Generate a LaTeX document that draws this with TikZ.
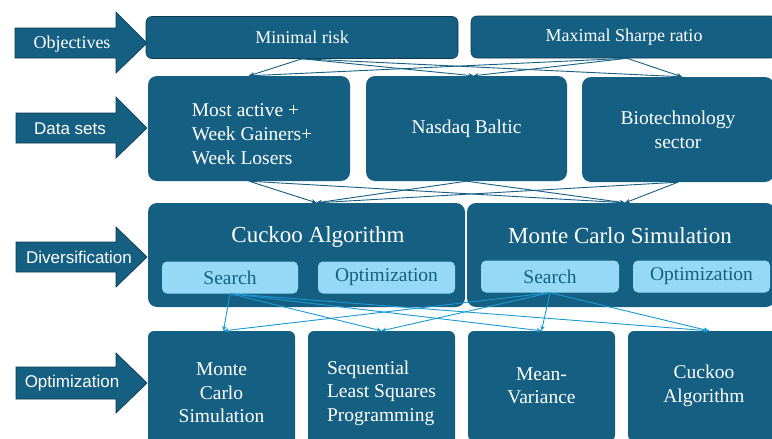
\documentclass[tikz,border=0pt]{standalone}
\usepackage{fontspec}
\setmainfont{Liberation Serif}
\newfontfamily\serf{Liberation Serif}
\newfontfamily\arrowsans{Liberation Sans}
\usetikzlibrary{arrows.meta}
\definecolor{mainblue}{HTML}{156082}
\definecolor{edgeblue}{HTML}{0E3A52}
\definecolor{lightfill}{HTML}{96D9F6}
\definecolor{linkblue}{HTML}{1A9AD2}
\tikzset{
  darkbox/.style={fill=mainblue, text=white, inner sep=0pt, align=center},
  objbox/.style={darkbox, draw=edgeblue, line width=0.6pt, rounded corners=6pt,
    minimum height=42pt, font=\serf\fontsize{18}{21}\selectfont},
  databox/.style={darkbox, rounded corners=9pt, minimum height=105pt,
    font=\serf\fontsize{19.5}{24}\selectfont},
  datatext/.style={text=white, inner sep=0pt, align=left, font=\serf\fontsize{19.5}{24}\selectfont},
  bigbox/.style={darkbox, rounded corners=9pt, minimum height=104pt},
  titletext/.style={text=white, inner sep=0pt, font=\serf\fontsize{23}{27}\selectfont},
  subbox/.style={fill=lightfill, text=mainblue, rounded corners=5pt, inner sep=0pt,
    minimum height=32pt, font=\serf\fontsize{19.5}{23}\selectfont},
  optbox/.style={darkbox, rounded corners=6pt, font=\serf\fontsize{19.5}{23.5}\selectfont},
  blockarrow/.style={fill=mainblue, draw=edgeblue, line width=0.7pt, line join=miter},
  arrowlabel/.style={text=white, inner sep=0pt},
  linkA/.style={draw=mainblue, line width=0.9pt, -{Stealth[length=5pt,width=4.5pt]}},
  linkB/.style={draw=linkblue, line width=0.9pt, -{Stealth[length=5pt,width=4.5pt]}},
}
\begin{document}
\begin{tikzpicture}[x=1pt,y=-1pt]
\useasboundingbox (0,0) rectangle (772,439);
\clip (0,0) rectangle (772,439);
\fill[white] (0,0) rectangle (772,439);

% ---- block arrows on the left
\draw[blockarrow] (15,28) -- (116,28) -- (116,12) -- (147,43) -- (116,73) -- (116,58) -- (15,58) -- cycle;
\node[arrowlabel, font=\serf\fontsize{18}{21}\selectfont] (lobj) at (72,44) {Objectives};

\draw[blockarrow] (16,113) -- (116,113) -- (116,97) -- (147,128) -- (116,158) -- (116,143) -- (16,143) -- cycle;
\node[arrowlabel, font=\arrowsans\fontsize{17}{20}\selectfont] (ldata) at (70,129) {Data sets};

\draw[blockarrow] (16,242) -- (116,242) -- (116,227) -- (147,257) -- (116,287) -- (116,272) -- (16,272) -- cycle;
\node[arrowlabel, font=\arrowsans\fontsize{17}{20}\selectfont] (ldiv) at (79,257) {Diversification};

\draw[blockarrow] (16,367) -- (116,367) -- (116,353) -- (147,383) -- (116,413) -- (116,399) -- (16,399) -- cycle;
\node[arrowlabel, font=\arrowsans\fontsize{17}{20}\selectfont] (lopt) at (72,383) {Optimization};

% ---- row 1: objectives
\node[objbox, minimum width=312pt] (minrisk) at (302,37.5) {Minimal risk};
\node[objbox, minimum width=306pt] (maxsharpe) at (624,37) {Maximal Sharpe ratio};

% ---- row 2: data sets
\node[databox, minimum width=202pt] (ds1) at (249,128.5) {};
\node[datatext] (ds1t) at (252,134) {Most active +\\Week Gainers+\\Week Losers};
\node[databox, minimum width=201pt] (ds2) at (466.5,128.5) {Nasdaq Baltic};
\node[databox, minimum width=192pt] (ds3) at (678,129.5) {Biotechnology\\sector};

% ---- row 3: diversification
\node[bigbox, minimum width=317pt] (cuckoo) at (306.5,255) {};
\node[bigbox, minimum width=308pt] (mcs) at (621,255) {};
\node[titletext] (cuckoot) at (318,237) {Cuckoo Algorithm};
\node[titletext] (mcst) at (620,236) {Monte Carlo Simulation};
\node[subbox, minimum width=136pt] (search1) at (230,277.5) {Search};
\node[subbox, minimum width=137pt] (opt1) at (386.5,277.5) {Optimization};
\node[subbox, minimum width=138pt] (search2) at (550,276.5) {Search};
\node[subbox, minimum width=137pt] (opt2) at (701.5,276.5) {Optimization};

% ---- row 4: optimization methods
\node[optbox, minimum width=147pt, minimum height=124pt] (b1) at (221.5,393) {Monte\\Carlo\\Simulation};
\node[optbox, minimum width=147pt, minimum height=124pt, align=left] (b2) at (381.5,393) {Sequential\\Least Squares\\Programming};
\node[optbox, minimum width=147pt, minimum height=110pt] (b3) at (541.5,386) {Mean-\\Variance};
\node[optbox, minimum width=152pt, minimum height=110pt] (b4) at (704,386) {Cuckoo\\Algorithm};

% ---- connectors: objectives -> data sets
\foreach \s/\dx in {minrisk/0, maxsharpe/3} {
  \draw[linkA] ([xshift=\dx pt]\s.south) -- (ds1.north);
  \draw[linkA] ([xshift=\dx pt]\s.south) -- ([xshift=7pt]ds2.north);
  \draw[linkA] ([xshift=\dx pt]\s.south) -- ([xshift=4pt]ds3.north);
}
% ---- data sets -> algorithms
\foreach \s in {ds1, ds2, ds3} {
  \draw[linkA] (\s.south) -- ([xshift=10pt]cuckoo.north);
  \draw[linkA] (\s.south) -- ([xshift=4pt]mcs.north);
}
% ---- search -> methods
\foreach \s in {search1, search2} {
  \draw[linkB] (\s.south) -- ([xshift=2pt]b1.north);
  \draw[linkB] (\s.south) -- (b2.north);
  \draw[linkB] (\s.south) -- (b3.north);
  \draw[linkB] (\s.south) -- ([xshift=5pt]b4.north);
}
\end{tikzpicture}
\end{document}
